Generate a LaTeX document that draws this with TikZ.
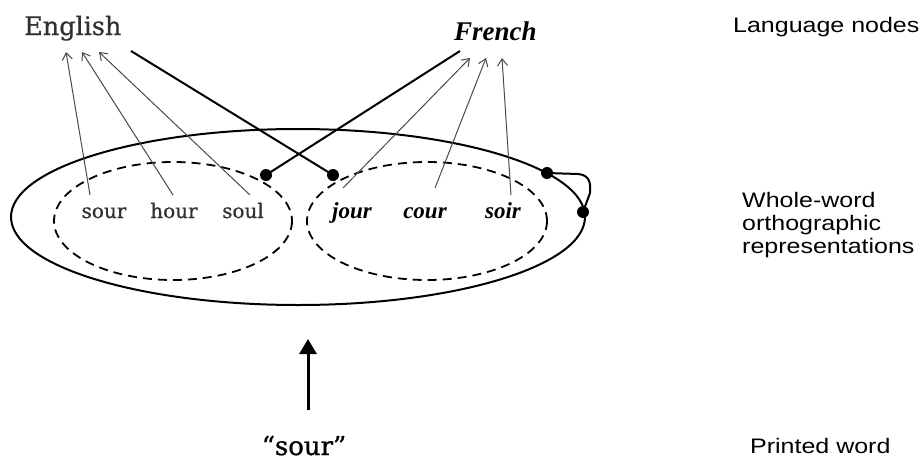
\documentclass[tikz,border=0pt]{standalone}
\usepackage{fontspec}
\setmainfont{Liberation Serif}
\newfontfamily\cent[FakeBold=0.6]{DejaVu Serif}
\newfontfamily\centb[FakeBold=0.9]{DejaVu Serif}
\newfontfamily\arialf{Liberation Sans}
\usetikzlibrary{arrows.meta}
\definecolor{engc}{HTML}{303030}
\definecolor{thinc}{HTML}{4A4A4A}
\tikzset{
  engword/.style={font=\cent\fontsize{20}{20}\selectfont, text=engc, anchor=base, inner sep=0pt},
  frword/.style={font=\bfseries\itshape\fontsize{23}{23}\selectfont, anchor=base, inner sep=0pt},
  sidelabel/.style={font=\arialf\fontsize{21}{23}\selectfont, anchor=base west, inner sep=0pt, align=left},
  thinarrow/.style={draw=thinc, line width=1pt, -{Straight Barb[length=7pt,width=10pt,line width=1pt]}},
  thickline/.style={draw=black, line width=2pt},
  dotnode/.style={circle, fill=black, inner sep=0pt, minimum size=12pt},
  dashell/.style={draw=black, line width=1.8pt, dash pattern=on 9pt off 6pt},
}
\begin{document}
\begin{tikzpicture}[x=1pt,y=-1pt]
\useasboundingbox (0,0) rectangle (922,461);
% ellipses
\draw[line width=2pt] (298,217) ellipse [x radius=287, y radius=88];
\draw[dashell] (173,221) ellipse [x radius=119, y radius=59];
\draw[dashell] (427,221) ellipse [x radius=120, y radius=59];
% language nodes
\node[font=\cent\fontsize{25.5}{25.5}\selectfont, text=engc, anchor=base west, inner sep=0pt] (english) at (24,35) {English};
\node[font=\bfseries\itshape\fontsize{27}{27}\selectfont, anchor=base west, inner sep=0pt] (french) at (454,40) {French};
% words
\node[engword] (sour) at (104,218) {sour};
\node[engword] (hour) at (174,218) {hour};
\node[engword] (soul) at (243,218) {soul};
\node[frword] (jour) at (352,218) {jour};
\node[frword] (cour) at (425,218) {cour};
\node[frword] (soir) at (503,218) {soir};
% arrow endpoints
\coordinate (s1) at (90,195);
\coordinate (s2) at (173,195);
\coordinate (s3) at (250,195);
\coordinate (e1) at (66,52);
\coordinate (e2) at (82,52);
\coordinate (e3) at (99,52);
\coordinate (f1) at (343,188);
\coordinate (f2) at (435,188);
\coordinate (f3) at (511,195);
\coordinate (t1) at (470,58);
\coordinate (t2) at (486,58);
\coordinate (t3) at (502,58);
\coordinate (eout) at (131,51);
\coordinate (fout) at (460,51);
% dots
\node[dotnode] (dfr) at (266,175) {};
\node[dotnode] (den) at (333,175) {};
\node[dotnode] (la) at (547,173) {};
\node[dotnode] (lb) at (583,212) {};
% connectors
\draw[thinarrow] (s1) -- (e1);
\draw[thinarrow] (s2) -- (e2);
\draw[thinarrow] (s3) -- (e3);
\draw[thinarrow] (f1) -- (t1);
\draw[thinarrow] (f2) -- (t2);
\draw[thinarrow] (f3) -- (t3);
\draw[thickline] (eout) -- (den.center);
\draw[thickline] (fout) -- (dfr.center);
\draw[thickline] (la.center) -- (578,174) .. controls (589,175) and (591,182) .. (590,193) -- (lb.center);
% printed word
\node[font=\centb\fontsize{26}{26}\selectfont, anchor=base, inner sep=0pt] (printed) at (304,455) {“sour”};
\coordinate (pw) at (308,410);
\draw[line width=3pt, -{Triangle[length=15pt,width=17pt]}] (pw) -- (308,339);
% side labels
\node[sidelabel] (lab1) at (733,32) {\scalebox{1.19}[1]{Language nodes}};
\node[sidelabel] (lab2) at (742,207) {\scalebox{1.19}[1]{Whole-word}};
\node[sidelabel] (lab3) at (742,230) {\scalebox{1.19}[1]{orthographic}};
\node[sidelabel] (lab4) at (742,253) {\scalebox{1.19}[1]{representations}};
\node[sidelabel] (lab5) at (750,453) {\scalebox{1.19}[1]{Printed word}};
\end{tikzpicture}
\end{document}
